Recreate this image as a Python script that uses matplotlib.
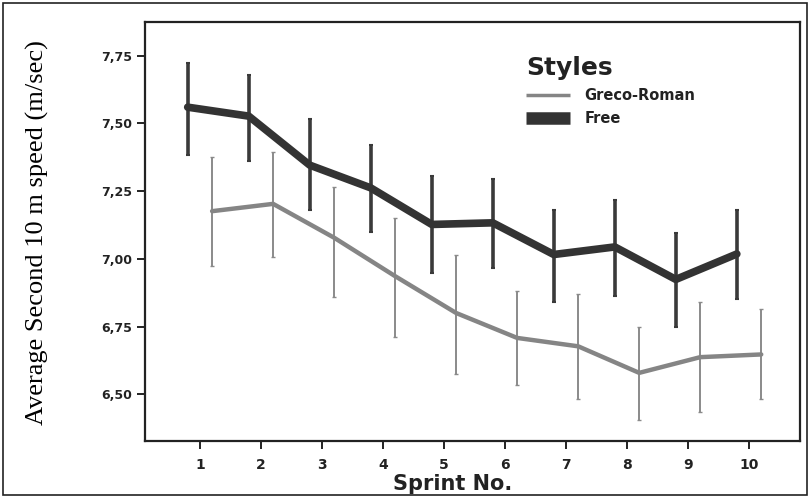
import matplotlib.pyplot as plt
import numpy as np
from matplotlib.patches import Rectangle

sprints = np.arange(1, 11)
free_mean = [7.56, 7.527, 7.346, 7.262, 7.127, 7.133, 7.016, 7.044, 6.924, 7.018]
free_lo = [7.385, 7.361, 7.18, 7.10, 6.948, 6.967, 6.84, 6.862, 6.75, 6.85]
free_hi = [7.724, 7.679, 7.518, 7.419, 7.305, 7.296, 7.18, 7.216, 7.094, 7.182]
gr_mean = [7.176, 7.203, 7.078, 6.936, 6.80, 6.708, 6.677, 6.579, 6.637, 6.647]
gr_lo = [6.975, 7.007, 6.86, 6.71, 6.576, 6.536, 6.483, 6.406, 6.435, 6.483]
gr_hi = [7.377, 7.395, 7.266, 7.151, 7.016, 6.883, 6.872, 6.75, 6.84, 6.815]
yticks = [6.50, 6.75, 7.00, 7.25, 7.50, 7.75]

fig = plt.figure(figsize=(8.1, 4.97), dpi=100)
ax = fig.add_axes([0.179, 0.113, 0.809, 0.843])

fm = np.array(free_mean)
gm = np.array(gr_mean)
xf = sprints - 0.2
xg = sprints + 0.2

ax.errorbar(xg, gm, yerr=[gm - np.array(gr_lo), np.array(gr_hi) - gm],
            fmt='none', ecolor='#8a8a8a', elinewidth=1.4, capsize=1.5, capthick=1)
ax.plot(xg, gm, color='#858585', lw=3.2, solid_joinstyle='round',
        solid_capstyle='round', label='Greco-Roman')
ax.errorbar(xf, fm, yerr=[fm - np.array(free_lo), np.array(free_hi) - fm],
            fmt='none', ecolor='#3a3a3a', elinewidth=2.6, capsize=1.5, capthick=1.5)
ax.plot(xf, fm, color='#333333', lw=5.5, solid_joinstyle='round',
        solid_capstyle='round', label='Free')

ax.set_xlim(0.1, 10.84)
ax.set_ylim(6.328, 7.875)
ax.set_xticks(sprints)
ax.set_xticklabels([str(s) for s in sprints], fontweight='bold', fontsize=10, color='#222222')
ax.set_yticks(yticks)
ax.set_yticklabels([f'{v:.2f}'.replace('.', ',') for v in yticks],
                   fontweight='bold', fontsize=9, color='#222222')
ax.tick_params(axis='both', direction='out', length=6, width=1.4, color='#222222')
ax.tick_params(axis='x', pad=6)
for s in ax.spines.values():
    s.set_linewidth(1.6)
    s.set_color('#222222')

ax.set_xlabel('Sprint No.', fontweight='bold', fontsize=15, color='#222222')
ax.xaxis.set_label_coords(0.47, -0.08)
ax.set_ylabel('Average Second 10 m speed (m/sec)', family='Liberation Serif',
              fontsize=19)
ax.yaxis.set_label_coords(-0.147, 0.498)

leg = ax.legend(title='Styles', loc='upper left', bbox_to_anchor=(0.57, 0.935),
                frameon=False, fontsize=10.5, handlelength=3.0, handletextpad=1.0,
                labelspacing=0.55, borderpad=0)
leg.get_title().set_fontweight('bold')
leg.get_title().set_fontsize(18)
leg._legend_box.align = 'left'
for t in leg.get_texts():
    t.set_fontweight('bold')
    t.set_color('#222222')
leg.get_title().set_color('#222222')
hl = leg.legend_handles
hl[0].set_linewidth(2.5)
hl[1].set_linewidth(9)
hl[1].set_solid_capstyle('butt')
hl[0].set_solid_capstyle('butt')

fig.patches.append(Rectangle((0.004, 0.004), 0.992, 0.99, transform=fig.transFigure,
                             fill=False, edgecolor='#222222', lw=1.2))

fig.savefig('out.png', dpi=100)
